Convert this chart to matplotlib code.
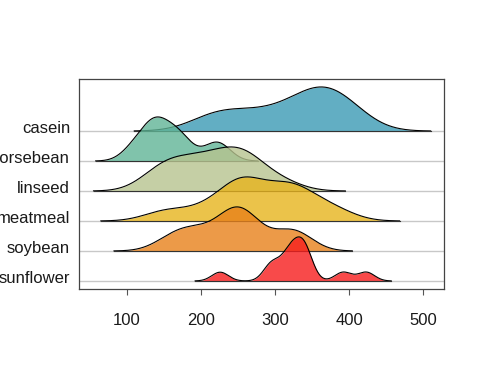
import numpy as np
import matplotlib
matplotlib.use('Agg')
import matplotlib.pyplot as plt

# chickwts: weight by feed type
feeds = ['sunflower', 'soybean', 'meatmeal', 'linseed', 'horsebean', 'casein']

weights = {
    'horsebean': [179, 160, 136, 227, 217, 168, 108, 124, 143, 140],
    'linseed'  : [309, 229, 181, 141, 260, 203, 148, 169, 213, 257, 244, 271],
    'soybean'  : [243, 230, 248, 327, 329, 250, 193, 271, 316, 267, 199, 171,
                  158, 248],
    'sunflower': [423, 340, 392, 339, 341, 226, 320, 295, 334, 322, 297, 318],
    'meatmeal' : [325, 257, 303, 315, 380, 153, 263, 242, 206, 344, 258],
    'casein'   : [368, 390, 379, 260, 404, 318, 352, 359, 216, 222, 283, 332],
}

colors = {
    'casein'   : '#3b9ab5',
    'horsebean': '#60b596',
    'linseed'  : '#b7c48f',
    'meatmeal' : '#e7b41d',
    'soybean'  : '#e8811a',
    'sunflower': '#f71d1d',
}

xticks = [100, 200, 300, 400, 500]


# ------------------------------------------------------------------------------
#
def bw_nrd0(x):
    x  = np.asarray(x, float)
    hi = x.std(ddof=1)
    q1, q3 = np.percentile(x, [25, 75])
    lo = min(hi, (q3 - q1) / 1.34)
    return 0.9 * lo * len(x) ** -0.2


def density(x, n=512, cut=3):
    x  = np.asarray(x, float)
    bw = bw_nrd0(x)
    gx = np.linspace(x.min() - cut * bw, x.max() + cut * bw, n)
    gy = np.exp(-0.5 * ((gx[:, None] - x[None, :]) / bw) ** 2).sum(axis=1)
    gy = gy / (len(x) * bw * np.sqrt(2 * np.pi))
    return gx, gy


# ------------------------------------------------------------------------------
#
def main():

    plt.rcParams['font.family'] = ['Liberation Sans', 'DejaVu Sans']

    fig = plt.figure(figsize=(4.85, 3.88), dpi=100)
    ax  = fig.add_axes([0.163, 0.255, 0.752, 0.541])

    scale = 1.47

    for i, feed in enumerate(feeds):
        ax.axhline(i, color='#c8c8c8', lw=1.0, zorder=0)

    # top rows drawn first, lower rows in front
    for i in reversed(range(len(feeds))):
        feed   = feeds[i]
        gx, gy = density(weights[feed])
        top    = i + scale * gy / gy.max()
        z      = 10 + (len(feeds) - i) * 3
        ax.fill_between(gx, i, top, color=colors[feed], alpha=0.8, lw=0,
                        zorder=z)
        ax.plot(gx, top, color='black', lw=0.8, zorder=z + 1)
        ax.plot([gx[0], gx[-1]], [i, i], color='#333333', lw=0.8,
                zorder=z + 1)

    ax.set_xlim(35.7, 527.6)
    ax.set_ylim(-0.27, 6.73)

    ax.set_xticks(xticks)
    ax.set_xticklabels([str(t) for t in xticks])
    ax.set_yticks(np.arange(len(feeds)) + 0.14)
    ax.set_yticklabels(feeds)

    ax.tick_params(axis='x', length=4, width=0.8, color='#555555', pad=13,
                   labelsize=12, labelcolor='#1a1a1a')
    ax.tick_params(axis='y', length=0, pad=6.5, labelsize=12,
                   labelcolor='#1a1a1a')

    for s in ax.spines.values():
        s.set_color('#444444')
        s.set_linewidth(0.9)

    fig.savefig('out.png', dpi=100)


# ------------------------------------------------------------------------------
#
if __name__ == '__main__':

    main()

# ------------------------------------------------------------------------------
